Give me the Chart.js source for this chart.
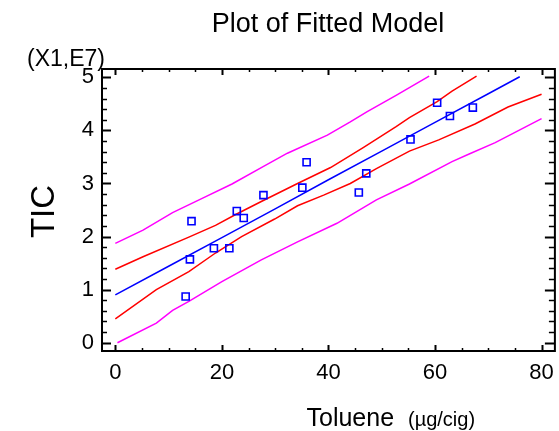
<!DOCTYPE html>
<html>
<head>
<meta charset="utf-8">
<script src="https://cdn.jsdelivr.net/npm/chart.js@4/dist/chart.umd.min.js"></script>
<style>
html,body{margin:0;padding:0;background:#fff;overflow:hidden;width:559px;height:431px;}
canvas{display:block;}
</style>
</head>
<body>
<canvas id="c" width="563" height="431" style="width:563px;height:431px"></canvas>
<script>
// ---- data ----
const xTickValues = [0, 20, 40, 60, 80];
const yTickValues = [0, 1, 2, 3, 4, 5];

const obsX = [13.2, 14.0, 14.3, 18.5, 21.4, 22.8, 24.1, 27.8, 35.1, 35.9, 45.7, 47.1, 55.4, 60.4, 62.8, 67.1];
const obsY = [0.87, 1.57, 2.29, 1.78, 1.78, 2.48, 2.35, 2.78, 2.92, 3.40, 2.83, 3.19, 3.83, 4.52, 4.27, 4.43];

const fitX = [0, 10, 20, 30, 40, 50, 60, 70, 75.9];
const fitY = [0.90, 1.44, 1.98, 2.52, 3.07, 3.61, 4.15, 4.69, 5.01];

const confUpX = [0, 5.2, 13.8, 18.8, 22.5, 27.4, 34.2, 40.4, 46.6, 52.7, 55.2, 60.4, 63.2, 67.8];
const confUpY = [1.385, 1.62, 1.99, 2.21, 2.41, 2.66, 3.00, 3.30, 3.68, 4.07, 4.24, 4.54, 4.74, 5.02];

const confLoX = [0, 7.7, 13.8, 18.8, 23.7, 29.9, 34.2, 39.1, 44.1, 49.0, 55.2, 60.7, 67.5, 73.7, 80];
const confLoY = [0.45, 1.0, 1.34, 1.69, 2.0, 2.33, 2.58, 2.78, 3.00, 3.28, 3.61, 3.82, 4.12, 4.44, 4.68];

const predUpX = [0, 5.2, 10.75, 16.3, 21.9, 27.4, 32.3, 39.8, 44.1, 47.2, 52.7, 58.9];
const predUpY = [1.87, 2.12, 2.45, 2.72, 2.99, 3.30, 3.57, 3.91, 4.16, 4.35, 4.66, 5.02];

const predLoX = [0.4, 7.7, 10.75, 13.8, 20, 27.4, 34.2, 41.6, 49, 55.2, 63.2, 66.3, 71.3, 80];
const predLoY = [0.0, 0.37, 0.61, 0.78, 1.15, 1.56, 1.90, 2.25, 2.69, 2.99, 3.41, 3.55, 3.77, 4.22];

const titleText = 'Plot of Fitted Model';
const yTitle = 'TIC';
const yScaleNote = '(X1,E7)';
const xTitleMain = 'Toluene';
const xTitleUnit = '(\u00b5g/cig)';

// ---- helpers ----
const FONT = '"Liberation Sans", Arial, sans-serif';
const pts = (xs, ys) => xs.map((x, i) => ({x: x, y: ys[i]}));
const lineDs = (xs, ys, color) => ({
  type: 'line', data: pts(xs, ys), borderColor: color, borderWidth: 1.5,
  pointRadius: 0, fill: false, tension: 0
});

const framePlugin = {
  id: 'frame',
  afterDraw(chart) {
    const ctx = chart.ctx, a = chart.chartArea;
    const xs = chart.scales.x, ys = chart.scales.y;
    ctx.save();
    ctx.strokeStyle = '#000';
    ctx.lineWidth = 2;
    ctx.strokeRect(a.left, a.top, a.right - a.left, a.bottom - a.top);
    // x ticks (bottom & top, inward)
    for (let v = 0; v <= 80; v += 5) {
      const major = xTickValues.includes(v);
      const px = Math.round(xs.getPixelForValue(v)) + 0.5;
      const len = major ? 6 : 3;
      ctx.lineWidth = major ? 2 : 1.5;
      ctx.beginPath();
      ctx.moveTo(px, a.bottom); ctx.lineTo(px, a.bottom - len);
      ctx.moveTo(px, a.top); ctx.lineTo(px, a.top + len);
      ctx.stroke();
    }
    // y ticks (left & right, inward)
    for (let k = 0; k <= 25; k++) {
      const v = k * 0.2;
      const major = (k % 5 === 0);
      const py = Math.round(ys.getPixelForValue(v)) + 0.5;
      const len = major ? 9 : 5;
      ctx.lineWidth = major ? 2 : 1.5;
      ctx.beginPath();
      ctx.moveTo(a.left, py); ctx.lineTo(a.left + len, py);
      ctx.moveTo(a.right, py); ctx.lineTo(a.right - len - 1, py);
      ctx.stroke();
    }
    // texts
    ctx.fillStyle = '#000';
    ctx.textBaseline = 'alphabetic';
    ctx.textAlign = 'center';
    ctx.font = '27px ' + FONT;
    ctx.fillText(titleText, 328, 31.5);
    ctx.textAlign = 'left';
    ctx.font = '23px ' + FONT;
    ctx.fillText(yScaleNote, 27, 65.5);
    ctx.font = '25px ' + FONT;
    ctx.fillText(xTitleMain, 306.5, 426);
    ctx.font = '20px ' + FONT;
    ctx.fillText(xTitleUnit, 408, 426);
    ctx.save();
    ctx.translate(54, 211.5);
    ctx.rotate(-Math.PI / 2);
    ctx.textAlign = 'center';
    ctx.font = '33px ' + FONT;
    ctx.fillText(yTitle, 0, 0);
    ctx.restore();
    ctx.restore();
  }
};

new Chart(document.getElementById('c'), {
  type: 'scatter',
  data: {
    datasets: [
      {
        type: 'scatter', data: pts(obsX, obsY), pointStyle: 'rect', pointRadius: 5,
        borderColor: '#0000ff', backgroundColor: 'rgba(0,0,0,0)', pointBorderWidth: 1.6, order: 0
      },
      lineDs(fitX, fitY, '#0000ff'),
      lineDs(confUpX, confUpY, '#ff0000'),
      lineDs(confLoX, confLoY, '#ff0000'),
      lineDs(predUpX, predUpY, '#ff00ff'),
      lineDs(predLoX, predLoY, '#ff00ff')
    ]
  },
  options: {
    responsive: false,
    animation: false,
    devicePixelRatio: 1,
    layout: {padding: {top: 69, right: 2, left: 0, bottom: 0}},
    plugins: {legend: {display: false}, tooltip: {enabled: false}, title: {display: false}},
    scales: {
      x: {
        type: 'linear', min: -2.5, max: 82.5,
        afterBuildTicks: s => { s.ticks = xTickValues.map(v => ({value: v})); },
        afterFit: s => { s.height = 80; },
        grid: {display: false, drawTicks: false},
        border: {display: false},
        ticks: {color: '#000', padding: 9, maxRotation: 0, font: {family: FONT, size: 22}}
      },
      y: {
        type: 'linear', min: -0.156, max: 5.156,
        afterBuildTicks: s => { s.ticks = yTickValues.map(v => ({value: v})); },
        afterFit: s => { s.width = 102; },
        grid: {display: false, drawTicks: false},
        border: {display: false},
        ticks: {color: '#000', padding: 8, font: {family: FONT, size: 22}}
      }
    }
  },
  plugins: [framePlugin]
});
</script>
</body>
</html>
